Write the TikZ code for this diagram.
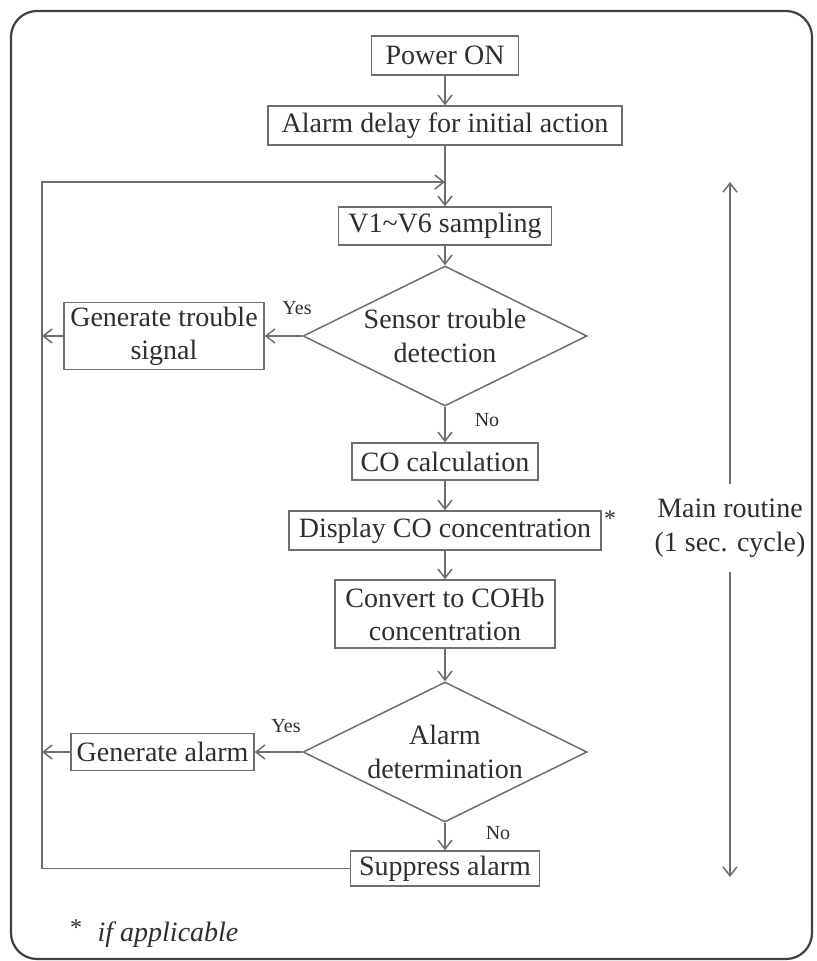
\documentclass[tikz,border=0pt]{standalone}
\usepackage{fontspec}
\setmainfont{Liberation Serif}
\usepackage{tikz}
\usepackage{xcolor}
\usetikzlibrary{shapes.geometric,arrows.meta}
\definecolor{linegray}{HTML}{6E6E6E}
\definecolor{inkgray}{HTML}{2E2E2E}
\definecolor{framegray}{HTML}{404040}

\begin{document}
\begin{tikzpicture}[x=0.5pt,y=-0.5pt,
  box/.style={draw=linegray,line width=0.75pt,minimum height=19.5pt,inner sep=0pt,align=center,text=inkgray,font=\fontsize{14}{16.5}\selectfont},
  decision/.style={draw=linegray,line width=0.75pt,diamond,minimum width=142pt,minimum height=70pt,inner sep=0pt},
  dtext/.style={align=center,inner sep=0pt,text=inkgray,font=\fontsize{14}{17}\selectfont},
  flow/.style={draw=linegray,line width=0.75pt,-{Straight Barb[length=4.5pt,width=7pt]}},
  tag/.style={text=inkgray,font=\fontsize{10}{12}\selectfont,inner sep=0pt}]
\useasboundingbox (0,0) rectangle (816,961);
\draw[framegray,line width=1.1pt,rounded corners=13pt] (11,11) rectangle (812,959);

\node[box,minimum width=73.5pt] (power) at (445,55.5) {Power ON};
\node[box,minimum width=177pt] (delay) at (445,125.5) {Alarm delay for initial action};
\node[box,minimum width=106.5pt,minimum height=19pt] (sampling) at (445,226) {V1\textasciitilde V6 sampling};
\node[decision] (sensor) at (445,336) {};
\node[dtext] (sensortext) at (sensor) {Sensor trouble\\detection};
\node[box,minimum width=100pt,minimum height=33.5pt] (trouble) at (164,336) {Generate trouble\\signal};
\node[box,minimum width=93pt,minimum height=18.5pt] (calc) at (445,461.5) {CO calculation};
\node[box,minimum width=156pt] (display) at (445,530.5) {Display CO concentration};
\node[tag,font=\fontsize{12}{12}\selectfont] (star) at (610,519) {*};
\node[box,minimum width=110pt,minimum height=34pt] (convert) at (445,614) {Convert to COHb\\concentration};
\node[decision] (alarm) at (445,752) {};
\node[dtext] (alarmtext) at (alarm) {Alarm\\determination};
\node[box,minimum width=91.5pt,minimum height=18.5pt] (genalarm) at (162.5,752) {Generate alarm};
\node[box,minimum width=94.5pt,minimum height=17.5pt] (suppress) at (445,868.5) {Suppress alarm};

\node[tag] (yes1) at (297,308) {Yes};
\node[tag] (no1) at (487,420) {No};
\node[tag] (yes2) at (286,726) {Yes};
\node[tag] (no2) at (498,833) {No};

\node[dtext,minimum height=43.5pt] (cycle) at (730,528) {Main routine\\(1 sec. cycle)};
\coordinate (cyctop) at (730,182);
\coordinate (cycbot) at (730,877);
\draw[flow] (cycle.north) -- (cyctop);
\draw[flow] (cycle.south) -- (cycbot);

\node[tag,font=\fontsize{12}{12}\selectfont] (fnstar) at (76,928) {*};
\node[dtext,font=\fontsize{14}{16}\selectfont\itshape] (fnote) at (168,935) {if applicable};

\draw[flow] (power) -- (delay);
\draw[flow] (delay) -- (sampling);
\draw[flow] (sampling) -- (sensor);
\draw[flow] (sensor) -- (trouble);
\draw[flow] (sensor) -- (calc);
\draw[flow] (calc) -- (display);
\draw[flow] (display) -- (convert);
\draw[flow] (convert) -- (alarm);
\draw[flow] (alarm) -- (genalarm);
\draw[flow] (alarm) -- (suppress);
\coordinate (merge) at (445,182);
\coordinate (loopcorner) at (42,182);
\draw[flow] (suppress.west) -| (loopcorner) -- (merge);
\draw[flow] (trouble.west) -- (trouble.west -| loopcorner);
\draw[flow] (genalarm.west) -- (genalarm.west -| loopcorner);
\end{tikzpicture}
\end{document}
